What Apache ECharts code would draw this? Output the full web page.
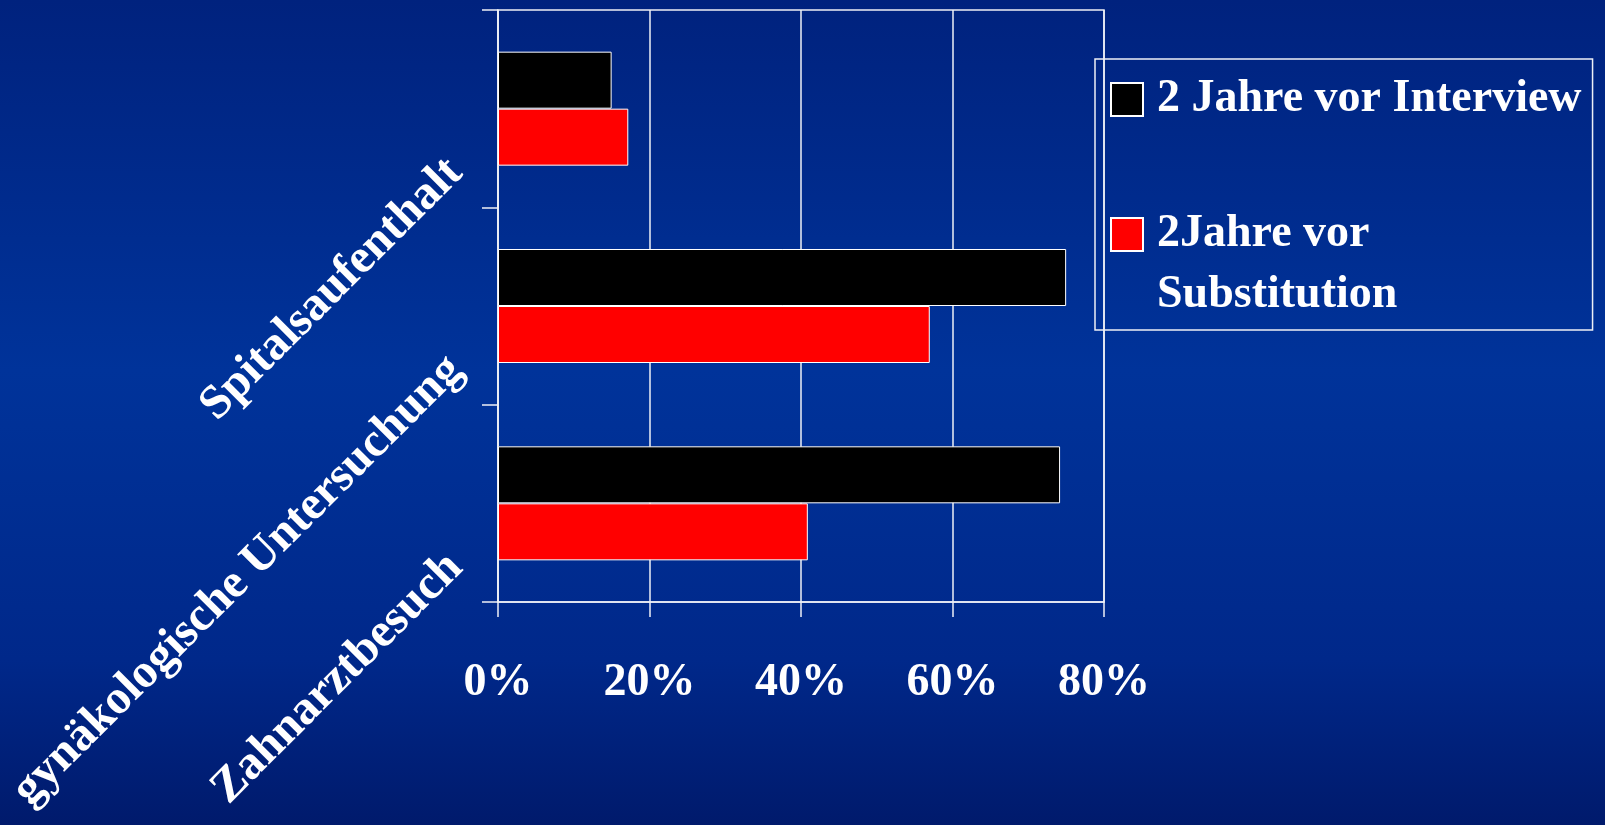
<!DOCTYPE html>
<html>
<head>
<meta charset="utf-8">
<title>Inanspruchnahme</title>
<script src="https://cdn.jsdelivr.net/npm/echarts@6/dist/echarts.min.js"></script>
<style>
  html, body { margin: 0; padding: 0; }
  #chart { width: 1605px; height: 825px; }
</style>
</head>
<body>
<div id="chart"></div>
<script>
// Kategorien von unten nach oben
const categories = ['Zahnarztbesuch', 'gynäkologische Untersuchung', 'Spitalsaufenthalt']
const seriesNames = ['2 Jahre vor Interview', '2Jahre vor Substitution']
// Anteile in %
const vorInterview = [74.2, 75.0, 15.0]
const vorSubstitution = [40.9, 57.0, 17.2]
const xTicks = [0, 20, 40, 60, 80]

const font = "'Liberation Serif', 'DejaVu Serif', serif"
const lineColor = '#eef0f6'

const myChart = echarts.init(document.getElementById('chart'))

const option = {
  backgroundColor: new echarts.graphic.LinearGradient(0, 0, 0, 1, [
    { offset: 0, color: '#00227e' },
    { offset: 0.45, color: '#00339a' },
    { offset: 0.8, color: '#00288a' },
    { offset: 1, color: '#001a6c' },
  ]),
  animation: false,
  textStyle: { fontFamily: font },
  legend: {
    orient: 'vertical',
    left: 1095,
    top: 59,
    padding: [6, 11, 0, 15],
    itemGap: 5,
    itemWidth: 32,
    itemHeight: 33,
    borderColor: lineColor,
    borderWidth: 1.5,
    selectedMode: false,
    icon: 'rect',
    // zweiter Eintrag: erste Zeile neben dem Symbol
    formatter: (name) => (name === seriesNames[1] ? '\n2Jahre vor\nSubstitution' : name),
    textStyle: {
      color: '#ffffff',
      fontFamily: font,
      fontWeight: 'bold',
      fontSize: 46,
      lineHeight: 61,
      padding: [8, 0, 0, 9],
    },
    data: seriesNames,
  },
  grid: {
    left: 498,
    right: 501,
    top: 10,
    bottom: 223,
    show: true,
    borderColor: lineColor,
    borderWidth: 1.5,
    outerBoundsMode: 'none',
  },
  xAxis: {
    type: 'value',
    min: xTicks[0],
    max: xTicks[xTicks.length - 1],
    interval: 20,
    axisLine: { show: true, lineStyle: { color: lineColor, width: 1.5 } },
    axisTick: { show: true, length: 15, lineStyle: { color: lineColor, width: 1.5 } },
    splitLine: { show: true, lineStyle: { color: lineColor, width: 1.5 } },
    axisLabel: {
      margin: 58,
      color: '#ffffff',
      fontFamily: font,
      fontWeight: 'bold',
      fontSize: 46,
      formatter: '{value}%',
    },
  },
  yAxis: {
    type: 'category',
    data: categories,
    axisLine: { show: true, lineStyle: { color: lineColor, width: 1.5 } },
    axisTick: { show: true, length: 16, lineStyle: { color: lineColor, width: 1.5 } },
    splitLine: { show: false },
    axisLabel: {
      rotate: 45,
      margin: 8,
      interval: 0,
      color: '#ffffff',
      fontFamily: font,
      fontWeight: 'bold',
      fontSize: 48,
      verticalAlign: 'top',
      lineHeight: 32,
      padding: [0, 65, 0, 0],
    },
  },
  series: [
    {
      name: seriesNames[0],
      type: 'bar',
      data: vorInterview,
      barWidth: 57,
      barGap: '0%',
      itemStyle: { color: '#000000', borderColor: '#ffffff', borderWidth: 1 },
    },
    {
      name: seriesNames[1],
      type: 'bar',
      data: vorSubstitution,
      barWidth: 57,
      barGap: '0%',
      itemStyle: { color: '#ff0000', borderColor: '#ffffff', borderWidth: 1 },
    },
  ],
}

myChart.setOption(option)
</script>
</body>
</html>
